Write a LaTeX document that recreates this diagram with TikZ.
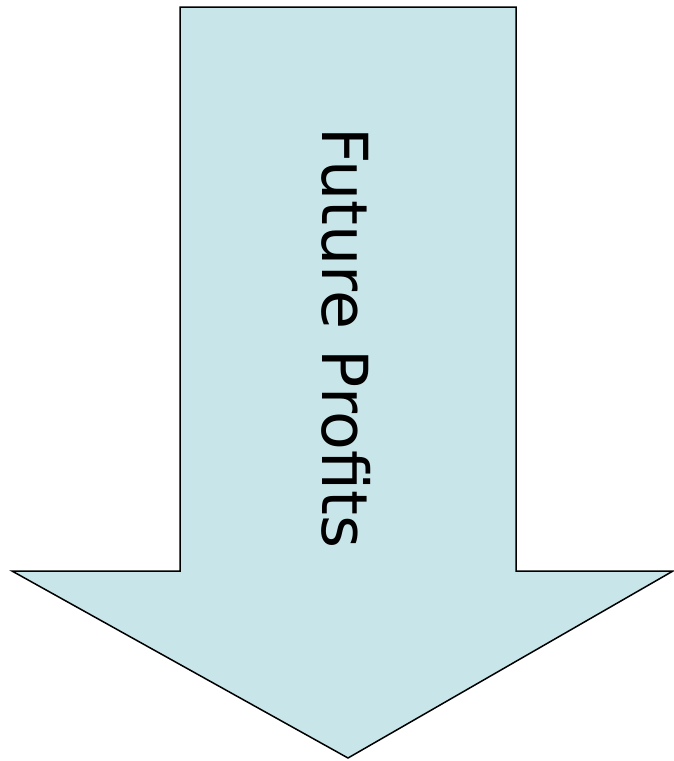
\documentclass[tikz,border=0pt]{standalone}
\usepackage{fontspec}
\setmainfont{DejaVu Sans}
\usepackage{xcolor}
\usepackage{tikz}
\definecolor{arrowblue}{RGB}{200,230,234}

\begin{document}
\begin{tikzpicture}[
    x=1pt, y=-1pt,
    bigarrow/.style={draw=black, line width=1.5pt, fill=arrowblue, line join=miter},
    arrowlabel/.style={rotate=-90, inner sep=0pt, font=\fontsize{63.5}{76}\selectfont}
]
\useasboundingbox (0,0) rectangle (674,761);

% Arrow
\draw[bigarrow] (180,7) -- (516,7) -- (516,571) -- (673,571) -- (348,758)
    -- (12,571) -- (180,571) -- cycle;

% Label
\node[arrowlabel] (profits) at (346,338) {Future Profits};

\end{tikzpicture}
\end{document}
